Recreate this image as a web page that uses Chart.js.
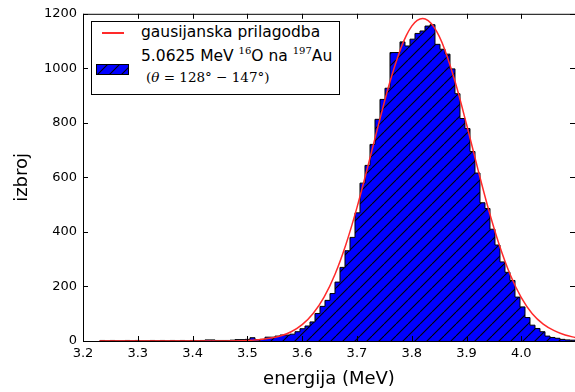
<!DOCTYPE html>
<html>
<head>
<meta charset="utf-8">
<script src="https://cdn.jsdelivr.net/npm/chart.js@4/dist/chart.umd.min.js"></script>
<style>
  html, body { margin: 0; padding: 0; background: #fff; overflow: hidden; }
  #wrap { position: relative; width: 575px; height: 392px; }
  #legend { position: absolute; left: 91px; top: 21px; width: 247px; height: 72px;
            border: 1px solid #000; background: #fff; font-family: "DejaVu Sans", sans-serif; color: #000; }
  #legend .row { position: absolute; white-space: nowrap; font-size: 15.5px; line-height: 18px; }
  #legend .sup { font-family: "DejaVu Serif", serif; font-size: 10px; position: relative; top: -7px; }
  #legend .math { font-family: "DejaVu Serif", "Liberation Serif", serif; font-size: 13.5px; }
  #redline { position: absolute; left: 10px; top: 10px; width: 22px; height: 2px; background: #ff2a2a; }
  #swatch { position: absolute; left: 4px; top: 42px; }
</style>
</head>
<body>
<div id="wrap">
  <canvas id="c" width="575" height="392"></canvas>
  <div id="legend">
    <div id="redline"></div>
    <div class="row" id="l1" style="left:49px; top:1px;"></div>
    <div class="row" id="l2" style="left:49px; top:25px;"></div>
    <canvas id="swatch" width="33" height="11"></canvas>
    <div class="row math" id="l3" style="left:54px; top:46px;"></div>
  </div>
</div>
<script>
// ---- data ----
const histLabel = ["5.0625 MeV ", "16", "O na ", "197", "Au"];
const histLabelMath = "(\u03B8 = 128\u00B0 \u2212 147\u00B0)";
const fitLabel = "gausijanska prilagodba";
const xTitle = "energija (MeV)";
const yTitle = "izbroj";

const binEdgeMin = 3.231;
const binEdgeMax = 4.098;
const counts = [
  2, 1, 2, 1, 1, 2, 1, 2, 1, 1,
  2, 1, 2, 1, 2, 1, 2, 1, 2, 1,
  2, 4, 4, 2, 2, 2, 3, 5, 5, 6,
  12, 5, 6, 14, 14, 18, 22, 22, 25, 34,
  45, 55, 70, 101, 127, 149, 174, 216, 270, 331,
  380, 470, 579, 644, 721, 813, 886, 927, 1058, 1058,
  1097, 1082, 1107, 1128, 1137, 1155, 1160, 1088, 1070, 1052,
  998, 907, 816, 779, 695, 616, 507, 486, 410, 352,
  290, 252, 222, 161, 125, 86, 58, 46, 34, 18,
  13, 10, 6, 4, 3
];

const fitX = [3.23, 3.30, 3.35, 3.40, 3.45, 3.50, 3.52, 3.54, 3.56, 3.58, 3.60, 3.62, 3.64, 3.66, 3.68,
              3.70, 3.72, 3.74, 3.76, 3.78, 3.79, 3.80, 3.81, 3.82, 3.83, 3.84, 3.85, 3.86, 3.88, 3.90,
              3.92, 3.94, 3.96, 3.98, 4.00, 4.02, 4.04, 4.06, 4.08, 4.10];
const fitY = [0, 0, 0, 0, 0.3, 2, 5, 10, 18, 34, 60, 101, 161, 245, 355,
              489, 641, 799, 949, 1073, 1120, 1155, 1176, 1183, 1175, 1153, 1118, 1070, 945, 795,
              636, 484, 351, 242, 159, 100, 62, 38, 22, 12];

const xTicks = [3.2, 3.3, 3.4, 3.5, 3.6, 3.7, 3.8, 3.9, 4.0];
const yTicks = [0, 200, 400, 600, 800, 1000, 1200];
const xMin = 3.2, xMax = 4.098, yMin = 0, yMax = 1200;

// ---- build ----
const binW = (binEdgeMax - binEdgeMin) / counts.length;
const stepPts = [{x: binEdgeMin, y: 0}];
counts.forEach((c, i) => stepPts.push({x: binEdgeMin + i * binW, y: c}));
stepPts.push({x: binEdgeMax, y: 0});
const fitPts = fitX.map((x, i) => ({x: x, y: fitY[i]}));

function makeHatch() {
  const p = document.createElement('canvas');
  p.width = 12; p.height = 12;
  const g = p.getContext('2d');
  g.fillStyle = '#0000ff';
  g.fillRect(0, 0, 12, 12);
  g.strokeStyle = '#000';
  g.lineWidth = 1.1;
  for (const x0 of [-12, 0, 12]) {
    g.beginPath(); g.moveTo(x0, 12); g.lineTo(x0 + 12, 0); g.stroke();
  }
  return p;
}
const hatchCanvas = makeHatch();
const ctx = document.getElementById('c').getContext('2d');
const hatch = ctx.createPattern(hatchCanvas, 'repeat');

// legend
document.getElementById('l1').textContent = fitLabel;
const l2 = document.getElementById('l2');
histLabel.forEach((t, i) => {
  const s = document.createElement('span');
  s.textContent = t;
  if (i === 1 || i === 3) s.className = 'sup';
  l2.appendChild(s);
});
const l3 = document.getElementById('l3');
l3.appendChild(document.createTextNode('('));
const th = document.createElement('i'); th.textContent = '\u03B8'; l3.appendChild(th);
l3.appendChild(document.createTextNode(histLabelMath.slice(2)));
const sw = document.getElementById('swatch').getContext('2d');
sw.fillStyle = sw.createPattern(hatchCanvas, 'repeat');
sw.fillRect(0, 0, 33, 11);
sw.strokeStyle = '#000'; sw.lineWidth = 1;
sw.strokeRect(0.5, 0.5, 32, 10);

const frame = {
  id: 'frame',
  afterDraw(chart) {
    const {ctx, chartArea: a, scales} = chart;
    ctx.save();
    ctx.strokeStyle = '#000';
    ctx.lineWidth = 1;
    ctx.strokeRect(a.left + 0.5, a.top + 0.5, a.right - a.left, a.bottom - a.top);
    const L = 5;
    ctx.beginPath();
    xTicks.forEach(v => {
      const px = Math.round(scales.x.getPixelForValue(v)) + 0.5;
      ctx.moveTo(px, a.bottom); ctx.lineTo(px, a.bottom - L);
      ctx.moveTo(px, a.top); ctx.lineTo(px, a.top + L);
    });
    yTicks.forEach(v => {
      const py = Math.round(scales.y.getPixelForValue(v)) + 0.5;
      ctx.moveTo(a.left, py); ctx.lineTo(a.left + L, py);
      ctx.moveTo(a.right, py); ctx.lineTo(a.right - L, py);
    });
    ctx.stroke();
    ctx.restore();
  }
};

Chart.defaults.font.family = '"DejaVu Sans", sans-serif';
Chart.defaults.color = '#000';

new Chart(ctx, {
  type: 'line',
  data: {
    datasets: [
      {
        label: fitLabel,
        data: fitPts,
        borderColor: '#ff2a2a',
        borderWidth: 1.5,
        pointRadius: 0,
        fill: false,
        cubicInterpolationMode: 'monotone'
      },
      {
        label: histLabel.join(''),
        data: stepPts,
        stepped: 'before',
        borderColor: '#000',
        borderWidth: 1,
        backgroundColor: hatch,
        fill: 'origin',
        pointRadius: 0
      }
    ]
  },
  options: {
    responsive: false,
    animation: false,
    events: [],
    layout: { padding: { top: 11, right: 0, left: 0, bottom: 0 } },
    plugins: { legend: { display: false }, tooltip: { enabled: false } },
    scales: {
      x: {
        type: 'linear', min: xMin, max: xMax,
        grid: { display: false, drawTicks: false },
        border: { display: false },
        afterBuildTicks: s => { s.ticks = xTicks.map(v => ({value: v})); },
        afterFit: s => { s.height = 51; },
        ticks: { padding: 5, font: { size: 13 }, color: '#000', maxRotation: 0,
                 callback: v => Number(v).toFixed(1) },
        title: { display: true, text: xTitle, font: { size: 18 }, color: '#000',
                 padding: { top: 0, bottom: 2 } }
      },
      y: {
        type: 'linear', min: yMin, max: yMax,
        grid: { display: false, drawTicks: false },
        border: { display: false },
        afterBuildTicks: s => { s.ticks = yTicks.map(v => ({value: v})); },
        afterFit: s => { s.width = 83; },
        ticks: { padding: 6, font: { size: 13 }, color: '#000',
                 callback: v => String(v) },
        title: { display: true, text: yTitle, font: { size: 18 }, color: '#000',
                 padding: { top: 12, bottom: 0 } }
      }
    }
  },
  plugins: [frame]
});
</script>
</body>
</html>
